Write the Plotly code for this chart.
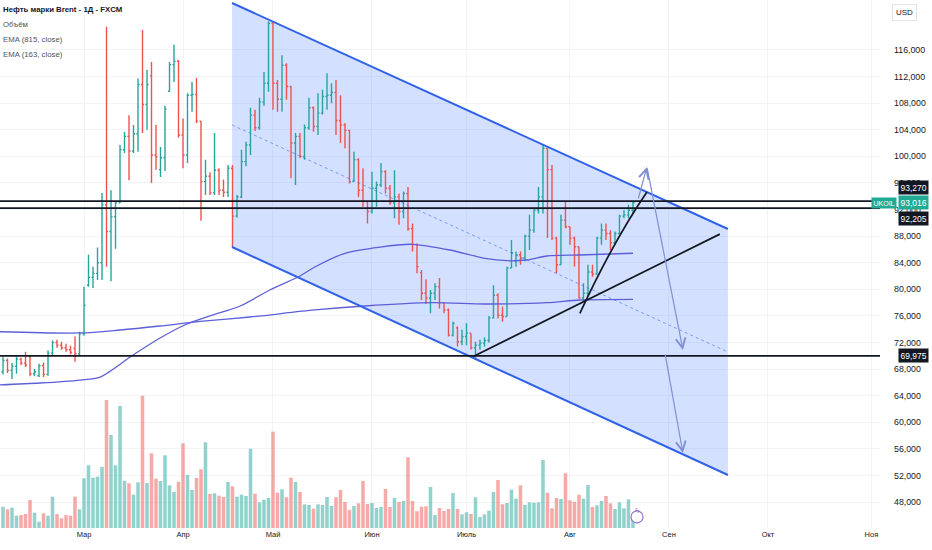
import plotly.graph_objects as go

# months: first bar index of each month (trading days, future continues the count)
month_ticks = [18, 40, 60, 82, 103, 126, 148, 170, 193]
month_labels = ["Мар", "Апр", "Май", "Июн", "Июль", "Авг", "Сен", "Окт", "Ноя"]

price_ticks = list(range(48, 117, 4))
price_labels = [f"{p},000" for p in price_ticks]

opens = [
    67.6, 69.3, 67.8, 68.4, 69.5, 68.9, 69.9, 67.3, 67.0, 68.5,
    67.2, 70.4, 72.0, 71.6, 71.2, 70.9, 71.1, 70.3, 73.3, 80.6,
    81.8, 82.4, 84.0, 92.7, 88.7, 90.9, 93.0, 101.0, 103.0, 100.8,
    103.4, 110.8, 107.8, 112.1, 100.2, 98.0, 99.8, 109.8, 113.8, 114.3,
    103.2, 100.2, 109.2, 109.3, 105.3, 96.2, 97.0, 94.5, 97.9, 94.9,
    94.6, 98.2, 91.0, 93.9, 99.2, 101.7, 106.2, 104.3, 108.2, 111.0,
    120.0, 111.0, 108.6, 113.7, 110.5, 102.0, 103.0, 100.0, 104.3, 107.3,
    104.5, 106.5, 109.0, 109.2, 109.6, 105.4, 104.7, 103.9, 96.2, 99.5,
    94.9, 93.2, 91.7, 95.2, 95.7, 97.7, 95.2, 93.0, 93.9, 91.7,
    94.4, 89.1, 86.8, 82.5, 79.4, 78.7, 79.4, 80.4, 78.0, 76.9,
    73.1, 74.2, 72.1, 72.9, 73.4, 71.2, 71.6, 71.9, 72.3, 75.7,
    79.1, 76.1, 75.9, 83.2, 84.3, 85.2, 84.7, 88.0, 88.9, 91.9,
    93.9, 101.2, 98.0, 87.7, 83.7, 90.4, 89.4, 87.7, 86.4, 78.7,
    79.4, 82.6, 82.3, 87.7, 88.9, 88.4, 87.0, 88.4, 91.0, 91.2,
    91.9,
]
highs = [
    69.8, 69.6, 68.9, 69.9, 69.7, 70.6, 70.0, 68.0, 68.8, 69.0,
    70.8, 72.3, 72.4, 72.1, 71.8, 71.5, 72.9, 73.6, 80.4, 85.2,
    83.4, 86.3, 94.5, 119.5, 94.9, 93.2, 101.7, 103.7, 106.2, 104.7,
    111.7, 119.0, 113.0, 114.2, 104.7, 101.4, 107.6, 114.2, 116.8, 114.5,
    105.7, 109.5, 111.2, 111.8, 105.3, 99.5, 97.6, 103.5, 98.2, 96.5,
    98.7, 98.7, 94.2, 101.0, 102.2, 107.3, 107.0, 108.8, 112.7, 120.3,
    120.3, 111.5, 115.2, 114.0, 110.6, 103.5, 103.5, 104.8, 108.8, 107.5,
    109.5, 110.0, 112.5, 111.0, 111.5, 109.2, 105.0, 104.0, 100.7, 99.7,
    98.2, 93.2, 97.7, 96.2, 99.0, 97.9, 95.7, 97.9, 94.4, 94.7,
    95.4, 89.9, 86.9, 82.9, 81.5, 79.9, 80.9, 81.7, 78.1, 77.1,
    75.1, 74.4, 73.9, 74.9, 73.4, 72.1, 72.4, 72.8, 76.0, 80.6,
    79.4, 77.4, 83.4, 87.4, 85.7, 85.7, 88.2, 91.2, 92.2, 95.4,
    101.7, 101.2, 98.7, 87.9, 91.2, 93.2, 89.4, 87.9, 86.4, 80.9,
    83.7, 83.7, 87.9, 89.9, 89.9, 88.9, 88.7, 91.2, 91.9, 92.7,
    93.2,
]
lows = [
    67.2, 67.4, 66.5, 67.3, 68.6, 68.3, 66.9, 66.9, 66.8, 66.8,
    67.0, 70.1, 71.2, 70.9, 70.6, 70.2, 69.1, 70.1, 73.0, 80.4,
    80.2, 81.4, 81.4, 83.4, 81.2, 86.1, 93.0, 100.5, 96.4, 100.5,
    100.7, 103.5, 104.0, 96.0, 98.0, 96.9, 97.8, 109.7, 111.2, 102.8,
    98.2, 99.0, 106.7, 105.0, 90.3, 94.2, 94.2, 94.2, 94.2, 93.9,
    93.9, 86.2, 90.8, 93.7, 98.5, 100.2, 103.8, 104.0, 107.6, 109.7,
    107.0, 106.7, 106.7, 108.5, 96.7, 95.7, 99.7, 99.5, 104.0, 103.7,
    103.2, 106.3, 107.0, 108.0, 103.2, 102.0, 101.2, 95.9, 96.2, 93.9,
    92.4, 89.9, 91.4, 92.4, 95.4, 94.4, 92.7, 90.7, 89.7, 90.7,
    88.8, 85.7, 82.4, 78.4, 77.8, 76.4, 78.4, 77.1, 76.4, 72.9,
    72.9, 71.4, 71.6, 71.6, 70.9, 69.6, 70.9, 71.4, 72.0, 75.6,
    75.6, 75.1, 75.9, 83.2, 83.4, 83.7, 84.2, 85.9, 88.5, 91.4,
    91.4, 87.7, 87.4, 82.4, 83.7, 89.2, 86.7, 83.4, 78.6, 78.1,
    78.9, 81.9, 82.2, 86.7, 87.4, 85.9, 86.7, 88.3, 90.7, 90.7,
    91.4,
]
closes = [
    69.3, 67.8, 68.4, 69.5, 68.9, 68.6, 67.3, 67.6, 68.5, 67.2,
    70.4, 72.0, 71.6, 71.2, 70.9, 70.5, 70.3, 73.3, 77.6, 81.8,
    82.4, 84.0, 92.7, 88.7, 90.9, 93.0, 101.0, 103.0, 100.8, 103.4,
    110.8, 107.8, 110.8, 100.2, 99.9, 99.8, 107.1, 113.8, 114.3, 103.2,
    100.2, 109.2, 109.3, 105.3, 96.2, 97.0, 94.5, 97.9, 94.9, 94.6,
    98.2, 91.0, 93.9, 99.2, 101.7, 106.2, 104.3, 108.2, 111.0, 120.0,
    111.0, 108.6, 113.7, 110.5, 102.0, 103.0, 100.0, 104.3, 107.3, 104.5,
    106.5, 109.0, 109.2, 109.6, 105.4, 104.7, 103.9, 96.2, 99.5, 94.9,
    93.2, 91.7, 95.2, 95.7, 97.7, 95.2, 93.0, 93.9, 91.7, 94.4,
    89.1, 86.8, 83.4, 79.4, 78.7, 79.4, 80.4, 78.0, 76.9, 73.1,
    74.9, 72.1, 72.9, 73.4, 71.2, 71.6, 71.9, 72.3, 75.7, 79.1,
    76.1, 75.9, 83.2, 85.5, 85.2, 84.7, 88.0, 88.9, 91.9, 93.9,
    101.2, 98.0, 87.7, 83.7, 90.4, 89.4, 87.7, 86.4, 78.7, 79.4,
    82.6, 82.3, 87.7, 88.9, 88.4, 87.0, 88.4, 91.0, 91.2, 91.9,
    93.016,
]
volumes = [
    21.3, 18.7, 20.3, 12.3, 13.0, 14.0, 28.0, 15.3, 6.3, 14.7,
    12.3, 31.3, 14.0, 9.7, 13.0, 12.3, 31.3, 18.7, 49.7, 62.7,
    50.3, 51.3, 61.0, 128.0, 93.0, 62.7, 122.0, 47.3, 44.7, 33.3,
    45.7, 132.3, 45.0, 74.7, 49.3, 47.0, 72.7, 42.7, 36.0, 46.3,
    84.7, 53.0, 38.0, 50.0, 58.7, 85.7, 34.0, 34.7, 32.3, 31.0,
    46.0, 41.7, 31.3, 33.3, 32.0, 79.3, 34.3, 25.7, 28.3, 30.0,
    96.3, 35.3, 38.7, 30.7, 50.3, 46.0, 36.0, 23.7, 23.0, 19.3,
    23.7, 23.0, 31.0, 22.0, 30.7, 38.0, 26.0, 18.0, 22.0, 24.7,
    47.0, 24.0, 25.0, 20.0, 21.0, 39.0, 21.0, 30.0, 26.0, 27.0,
    70.7, 27.0, 16.7, 21.3, 21.7, 41.0, 13.0, 20.0, 17.0, 19.0,
    35.0, 19.0, 13.7, 15.7, 14.0, 30.7, 11.0, 13.7, 17.3, 36.0,
    48.0, 23.7, 25.0, 38.3, 29.3, 42.7, 23.0, 25.7, 25.3, 25.7,
    68.0, 35.3, 19.7, 30.0, 29.0, 54.7, 27.7, 26.3, 33.3, 29.3,
    43.0, 21.0, 22.7, 27.0, 32.0, 24.7, 19.0, 25.7, 19.7, 28.7,
    10.0,
]
bars = list(range(len(closes)))

# EMA lines, sampled along the curve
ema815_x = [-1, 17.1, 26, 34.9, 43.8, 54.9, 69.3, 80.4, 95.3, 107.1, 120.9, 128.2, 140]
ema815_y = [73.62, 73.43, 73.88, 74.48, 75.16, 75.83, 76.89, 77.49, 77.98, 77.79, 77.98, 78.39, 78.49]
ema163_x = [-1, 8.2, 17.1, 21.6, 28.9, 34.9, 40.4, 46, 52.7, 59.3, 66, 69.3, 76, 83.8,
            90.9, 99.3, 107.1, 112, 116.4, 120.9, 128.2, 140]
ema163_y = [65.6, 65.9, 66.35, 66.8, 70.12, 72.67, 74.63, 75.99, 77.49, 79.89, 82.0, 83.35,
            85.42, 86.36, 86.77, 85.91, 84.66, 84.3, 84.41, 85.01, 85.16, 85.42]

# drawings (bar index, price)
channel_x = [50.9, 161.1]
channel_top = [123.07, 89.07]
channel_bottom = [86.36, 52.06]
channel_mid = [104.72, 70.57]
levels = [93.270, 92.205, 69.975]
last_price = 93.016
trend_x = [104.5, 159.3]
trend_y = [69.9, 88.3]
curve_pts = [(128.2, 76.39), (135.7, 87.3), (143.1, 94.64)]
arrows = [((141.1, 93.43), (143.1, 98.40)),
          ((143.1, 98.40), (151.1, 70.87)),
          ((147.1, 70.42), (151.1, 55.37))]

UP, DOWN = "#26a69a", "#ef5350"
FONT = "Liberation Sans, Arial, sans-serif"

fig = go.Figure()

vol_colors = ["rgba(38,166,154,0.5)" if c >= o else "rgba(239,83,80,0.5)"
              for o, c in zip(opens, closes)]
fig.add_trace(go.Bar(x=bars, y=volumes, marker_color=vol_colors, marker_line_width=0,
                     width=0.78, yaxis="y2", hoverinfo="skip"))

fig.add_trace(go.Scatter(x=ema815_x, y=ema815_y, mode="lines",
                         line=dict(color="#5c5fd6", width=1.3, shape="spline", smoothing=0.8),
                         hoverinfo="skip"))
fig.add_trace(go.Scatter(x=ema163_x, y=ema163_y, mode="lines",
                         line=dict(color="#5c5fd6", width=1.3, shape="spline", smoothing=0.8),
                         hoverinfo="skip"))

fig.add_trace(go.Ohlc(x=bars, open=opens, high=highs, low=lows, close=closes,
                      increasing_line_color=UP, decreasing_line_color=DOWN,
                      line_width=1.4, tickwidth=0.35, hoverinfo="skip"))

# channel
x0, x1 = channel_x
fig.add_shape(type="path", layer="between", line_width=0, fillcolor="rgba(41,98,255,0.2)",
              path=f"M{x0},{channel_top[0]} L{x1},{channel_top[1]} "
                   f"L{x1},{channel_bottom[1]} L{x0},{channel_bottom[0]} Z")
for ys in (channel_top, channel_bottom):
    fig.add_shape(type="line", x0=x0, x1=x1, y0=ys[0], y1=ys[1],
                  line=dict(color="#2f62e8", width=2))
fig.add_shape(type="line", x0=x0, x1=x1, y0=channel_mid[0], y1=channel_mid[1],
              line=dict(color="rgba(41,98,255,0.55)", width=1, dash="dot"))

# horizontal levels
for lv in levels:
    fig.add_shape(type="line", xref="paper", x0=0, x1=1, y0=lv, y1=lv,
                  line=dict(color="#131722", width=1.8))

# trend lines
fig.add_shape(type="line", x0=trend_x[0], x1=trend_x[1], y0=trend_y[0], y1=trend_y[1],
              line=dict(color="#131722", width=1.7))
(p0x, p0y), (cx, cy), (p1x, p1y) = curve_pts
fig.add_shape(type="path", path=f"M{p0x},{p0y} Q{cx},{cy} {p1x},{p1y}",
              line=dict(color="#131722", width=1.7))

for (tx, ty), (hx, hy) in arrows:
    fig.add_annotation(x=hx, y=hy, ax=tx, ay=ty, xref="x", yref="y", axref="x", ayref="y",
                       text="", showarrow=True, arrowhead=5, arrowsize=1.6, arrowwidth=1.2,
                       arrowcolor="#7f90d4", standoff=0, startstandoff=0)

# legend text
legend_rows = [("<b>Нефть марки Brent - 1Д - FXCM</b>", "#131722"),
               ("Объём", "#50535e"),
               ("EMA (815, close)", "#50535e"),
               ("EMA (163, close)", "#50535e")]
for k, (txt, col) in enumerate(legend_rows):
    fig.add_annotation(text=txt, xref="paper", yref="paper", x=0, y=1, xanchor="left",
                       yanchor="middle", xshift=1, yshift=-9 - 15 * k, showarrow=False,
                       font=dict(family=FONT, size=7.8, color=col))

# price scale labels
fig.add_annotation(text="USD", xref="paper", yref="paper", x=1, y=1, xanchor="left",
                   yanchor="top", xshift=12, yshift=-4, showarrow=False,
                   bordercolor="#e0e3eb", borderwidth=1, borderpad=3,
                   font=dict(family=FONT, size=8, color="#131722"))
box_shift = {93.270: 14, 92.205: -10, 69.975: 0}
for lv in levels:
    fig.add_annotation(text=f"{lv:.3f}".replace(".", ","), xref="paper", yref="y", x=1, y=lv,
                       xanchor="left", yanchor="middle", xshift=18, yshift=box_shift[lv],
                       showarrow=False, bgcolor="#131722", borderpad=1.5,
                       font=dict(family=FONT, size=8.5, color="white"))
fig.add_annotation(text=f"{last_price:.3f}".replace(".", ","), xref="paper", yref="y", x=1,
                   y=last_price, xanchor="left", yanchor="middle", xshift=18, showarrow=False,
                   bgcolor="#22ab94", borderpad=1.5, font=dict(family=FONT, size=8.5, color="white"))
fig.add_annotation(text="UKOIL", xref="paper", yref="y", x=1, y=last_price, xanchor="right",
                   yanchor="middle", xshift=17, showarrow=False, bgcolor="#22ab94", borderpad=1.5,
                   font=dict(family=FONT, size=7, color="white"))

# lightning marker at the end of the volume pane
fig.add_shape(type="circle", xref="x", yref="paper", xsizemode="pixel", ysizemode="pixel",
              xanchor=140.9, yanchor=0.021, x0=-6, x1=6, y0=-6, y1=6,
              line=dict(color="#9575cd", width=1.2), fillcolor="white")
fig.add_annotation(text="ϟ", xref="x", yref="paper", x=140.9, y=0.021, showarrow=False,
                   font=dict(size=8, color="#9575cd"))

fig.update_layout(
    width=932, height=550,
    margin=dict(l=0, r=52, t=0, b=22),
    plot_bgcolor="white", paper_bgcolor="white",
    showlegend=False,
    font=dict(family=FONT, color="#131722"),
    xaxis=dict(range=[-0.67, 194.9], tickvals=month_ticks, ticktext=month_labels,
               showgrid=True, gridcolor="#f2f4f8", zeroline=False, showline=False,
               ticks="", rangeslider=dict(visible=False), tickfont=dict(size=7.5)),
    yaxis=dict(side="right", range=[44.09, 123.52], tickvals=price_ticks, ticktext=price_labels,
               showgrid=True, gridcolor="#f2f4f8", zeroline=False, showline=False, ticks="",
               ticklabelstandoff=13, tickfont=dict(size=8.8)),
    yaxis2=dict(overlaying="y", range=[0, 528], visible=False),
)

# page body has a default 8px margin; drop it so the figure sits at the window origin
fig.write_html("out.html", config={"displayModeBar": False},
               post_script="document.body.style.margin='0px';")
